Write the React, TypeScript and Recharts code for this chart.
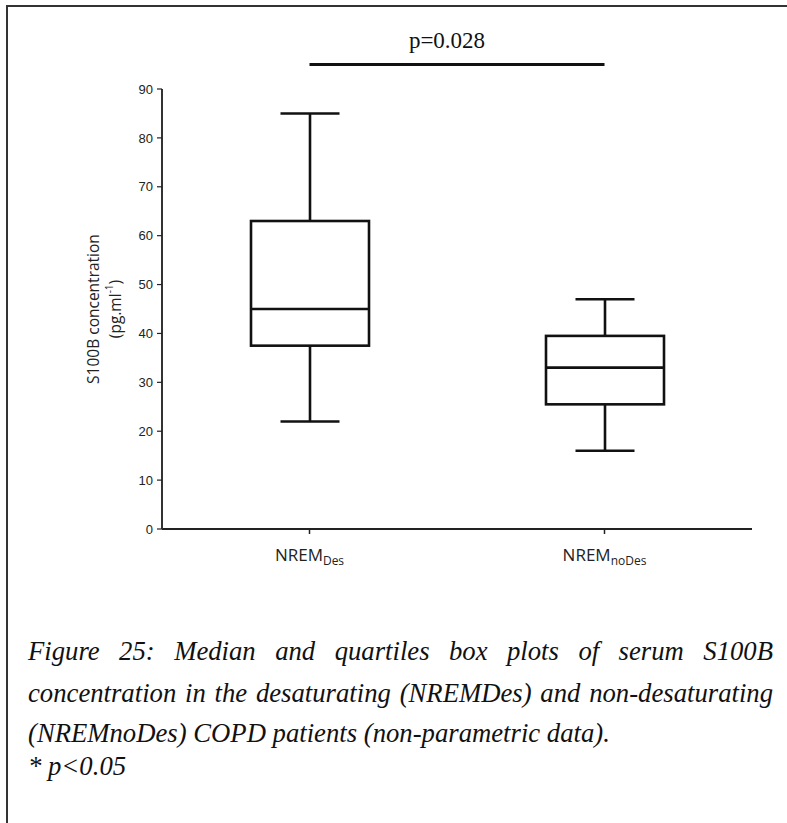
import React from 'react';
import { ComposedChart, Bar, XAxis, YAxis, ReferenceLine } from 'recharts';

// ---- data ----
const groups = ['NREMDes', 'NREMnoDes'];
const groupBase = ['NREM', 'NREM'];
const groupSub = ['Des', 'noDes'];
const minValues = [22, 16];
const q1Values = [37.5, 25.5];
const medianValues = [45, 33];
const q3Values = [63, 39.5];
const maxValues = [85, 47];
const yTicks = [0, 10, 20, 30, 40, 50, 60, 70, 80, 90];
const pValueText = 'p=0.028';
const yLabelLine1 = 'S100B concentration';
const yLabelLine2 = '(pg.ml';
const yLabelSup = '-1';
const captionLines = [
  'Figure 25: Median and quartiles box plots of serum S100B',
  'concentration in the desaturating (NREMDes) and non-desaturating',
  '(NREMnoDes) COPD patients (non-parametric data).',
  '* p<0.05',
];

const data = groups.map((g, i) => ({
  group: g,
  base: groupBase[i],
  sub: groupSub[i],
  min: minValues[i],
  q1: q1Values[i],
  median: medianValues[i],
  q3: q3Values[i],
  max: maxValues[i],
  range: [minValues[i], maxValues[i]],
}));

const STROKE = '#111';
const SW = 2.6;

const BoxShape = (props: any) => {
  const { x, y, width, height, payload } = props;
  if (payload == null) return null;
  const top = Math.min(y, y + height);
  const h = Math.abs(height);
  const { min, q1, median, q3, max } = payload;
  const span = max - min;
  const toY = (v: number) => top + ((max - v) / span) * h;
  const cx = x + width / 2;
  const capHalf = width / 4;
  const yMax = toY(max);
  const yMin = toY(min);
  const yQ3 = toY(q3);
  const yQ1 = toY(q1);
  const yMed = toY(median);
  return (
    <g stroke={STROKE} strokeWidth={SW} fill="none">
      <line x1={cx - capHalf} x2={cx + capHalf} y1={yMax} y2={yMax} />
      <line x1={cx} x2={cx} y1={yMax} y2={yQ3} />
      <rect x={x} y={yQ3} width={width} height={yQ1 - yQ3} fill="#fff" />
      <line x1={x} x2={x + width} y1={yMed} y2={yMed} />
      <line x1={cx} x2={cx} y1={yQ1} y2={yMin} />
      <line x1={cx - capHalf} x2={cx + capHalf} y1={yMin} y2={yMin} />
    </g>
  );
};

const XTick = (props: any) => {
  const { x, y, index } = props;
  const i = index ?? 0;
  return (
    <text
      x={x}
      y={y + 25}
      textAnchor="middle"
      fontFamily="'Open Sans', sans-serif"
      fontSize={17}
      fill="#222"
    >
      {groupBase[i]}
      <tspan fontSize={12} dy={4}>{groupSub[i]}</tspan>
    </text>
  );
};

const YLabel = (props: any) => {
  const vb = props.viewBox || { y: 89, height: 440 };
  const cy = vb.y + vb.height / 2;
  const x1 = 93;
  const x2 = 115;
  return (
    <g fontFamily="'Open Sans', sans-serif" fontSize={15.5} fill="#222">
      <text x={x1} y={cy} textAnchor="middle" dominantBaseline="central" transform={`rotate(-90, ${x1}, ${cy})`}>
        {yLabelLine1}
      </text>
      <text x={x2} y={cy} textAnchor="middle" dominantBaseline="central" transform={`rotate(-90, ${x2}, ${cy})`}>
        {yLabelLine2}
        <tspan fontSize={10} dy={-6}>{yLabelSup}</tspan>
        <tspan dy={6}>)</tspan>
      </text>
    </g>
  );
};

export default function App() {
  return (
    <div style={{ position: 'absolute', left: 0, top: 0, width: 787, height: 823, background: '#fff', overflow: 'hidden' }}>
      <div
        style={{
          position: 'absolute',
          left: 6,
          top: 5,
          width: 781,
          height: 818,
          borderLeft: '2px solid #333',
          borderTop: '2px solid #333',
          boxSizing: 'border-box',
        }}
      />
      <div
        style={{
          position: 'absolute',
          left: 347,
          width: 200,
          top: 26,
          textAlign: 'center',
          fontFamily: "'Liberation Serif', 'Times New Roman', serif",
          fontSize: 23,
          lineHeight: '30px',
          color: '#111',
        }}
      >
        {pValueText}
      </div>
      <div style={{ position: 'absolute', left: 0, top: 0 }}>
        <ComposedChart
          width={787}
          height={600}
          data={data}
          margin={{ top: 89, right: 35, bottom: 31, left: 100 }}
          barCategoryGap={0}
        >
          <XAxis
            dataKey="group"
            type="category"
            tick={<XTick />}
            tickSize={5}
            tickLine={{ stroke: '#222', strokeWidth: 1.5 }}
            axisLine={{ stroke: '#222', strokeWidth: 2 }}
            height={40}
            interval={0}
          />
          <XAxis
            xAxisId="top"
            dataKey="group"
            type="category"
            orientation="top"
            tick={false}
            tickLine={false}
            axisLine={{ stroke: '#222', strokeWidth: 1.2 }}
            height={0}
          />
          <YAxis
            type="number"
            domain={[0, 90]}
            ticks={yTicks}
            interval={0}
            width={62}
            tickSize={5}
            tickMargin={4}
            tick={{ fontFamily: "'Liberation Sans', Arial, sans-serif", fontSize: 13, fill: '#222' }}
            tickLine={{ stroke: '#222', strokeWidth: 1.2 }}
            axisLine={{ stroke: '#333', strokeWidth: 2 }}
            label={{ content: <YLabel /> }}
          />
          <YAxis
            yAxisId="right"
            orientation="right"
            type="number"
            domain={[0, 90]}
            tick={false}
            tickLine={false}
            axisLine={{ stroke: '#222', strokeWidth: 1.5 }}
            width={0}
          />
          <ReferenceLine
            segment={[
              { x: 'NREMDes', y: 95 },
              { x: 'NREMnoDes', y: 95 },
            ]}
            stroke="#111"
            strokeWidth={3}
            ifOverflow="visible"
          />
          <Bar dataKey="range" barSize={118} shape={<BoxShape />} isAnimationActive={false} />
        </ComposedChart>
      </div>
      {captionLines.map((line, i) => {
        const tops = [631, 673, 713, 746];
        const justify = i < 2;
        return (
          <div
            key={i}
            style={{
              position: 'absolute',
              left: 28,
              width: 745,
              top: tops[i],
              height: 41,
              lineHeight: '41px',
              fontFamily: "'Liberation Serif', 'Times New Roman', serif",
              fontStyle: 'italic',
              fontSize: 26.7,
              color: '#111',
              textAlign: justify ? 'justify' : 'left',
              textAlignLast: justify ? 'justify' : 'left',
              whiteSpace: 'nowrap',
            } as React.CSSProperties}
          >
            {line}
          </div>
        );
      })}
    </div>
  );
}
